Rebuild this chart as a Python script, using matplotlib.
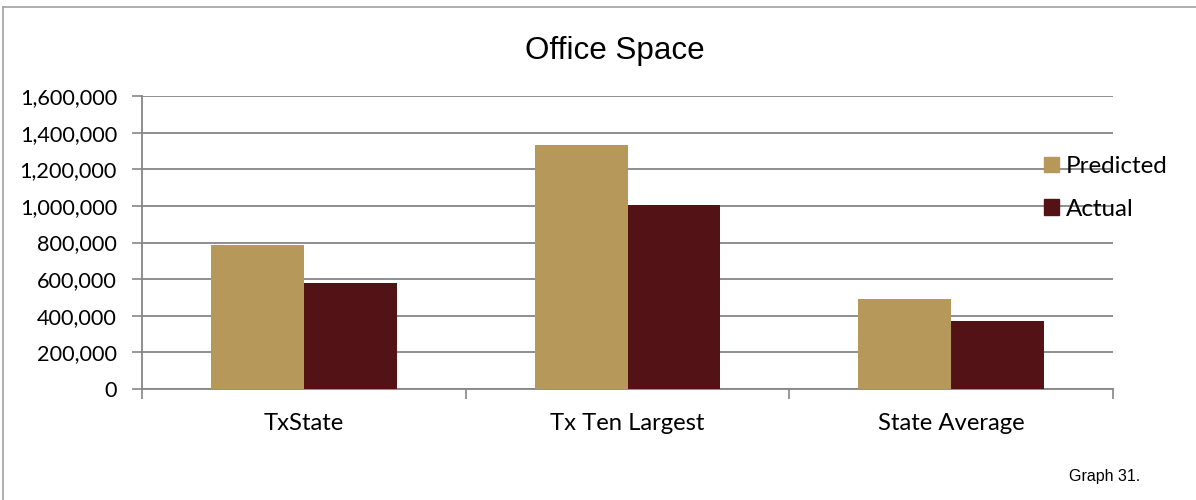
import matplotlib
matplotlib.use('Agg')
from matplotlib import pyplot as plt
from matplotlib.patches import Patch
import numpy as np

# data
categories = ['TxState', 'Tx Ten Largest', 'State Average']
predicted = [785000, 1334000, 491000]
actual = [577000, 1006000, 373000]
yticks = [0, 200000, 400000, 600000, 800000, 1000000, 1200000, 1400000, 1600000]

col_pred = '#B5985A'
col_act = '#521216'
grid_col = '#868686'
lab_font = ['Lato', 'DejaVu Sans']

fig = plt.figure(figsize=(11.96, 5.0), dpi=100)
ax = fig.add_axes([142/1196, 111/500, (1113-142)/1196, (389-96)/500])

x = np.arange(len(categories))
w = 0.287
ax.bar(x - w/2, predicted, w, color=col_pred, zorder=3)
ax.bar(x + w/2, actual, w, color=col_act, zorder=3)

ax.set_xlim(-0.5, len(categories) - 0.5)
ax.set_ylim(0, 1600000)
ax.set_yticks(yticks)
ax.set_yticklabels(['{:,}'.format(v) for v in yticks], family=lab_font, fontsize=15.6)
ax.set_xticks(x)
ax.set_xticklabels(categories, family=lab_font, fontsize=17.2)
ax.set_xticks(np.arange(-0.5, len(categories)), minor=True)
ax.tick_params(axis='x', which='major', length=0, pad=17)
ax.tick_params(axis='x', which='minor', length=7, width=1.2, color=grid_col, direction='out')
ax.tick_params(axis='y', length=7, width=1.2, color=grid_col, direction='out', pad=11)
ax.yaxis.grid(True, color=grid_col, linewidth=1.3, zorder=0)
ax.set_axisbelow(True)
for s in ['top', 'right']:
    ax.spines[s].set_visible(False)
for s in ['left', 'bottom']:
    ax.spines[s].set_color(grid_col)
    ax.spines[s].set_linewidth(1.3)

# legend sitting over the right end of the plot area
handles = [Patch(color=col_pred, label='Predicted'), Patch(color=col_act, label='Actual')]
leg = fig.legend(handles=handles, loc='upper left', bbox_to_anchor=(1044/1196, 1 - 156/500),
                 frameon=False, prop={'family': lab_font, 'size': 17.4},
                 handlelength=0.62, handleheight=0.62, handletextpad=0.3, labelspacing=0.9,
                 borderaxespad=0, borderpad=0)
leg.set_zorder(5)

fig.text(615/1196, 1 - 51/500, 'Office Space', ha='center', va='center',
         family='Liberation Sans', fontsize=22.6)
fig.text(1140/1196, 1 - 476/500, 'Graph 31.', ha='right', va='center',
         family='Liberation Sans', fontsize=11.5)

# outer frame lines
fig.add_artist(plt.Line2D([3/1196, 3/1196], [0, 1 - 7/500], color='#A0A0A0', lw=1.2))
fig.add_artist(plt.Line2D([3/1196, 1], [1 - 7/500, 1 - 7/500], color='#A0A0A0', lw=1.2))

fig.savefig('out.png', dpi=100)
